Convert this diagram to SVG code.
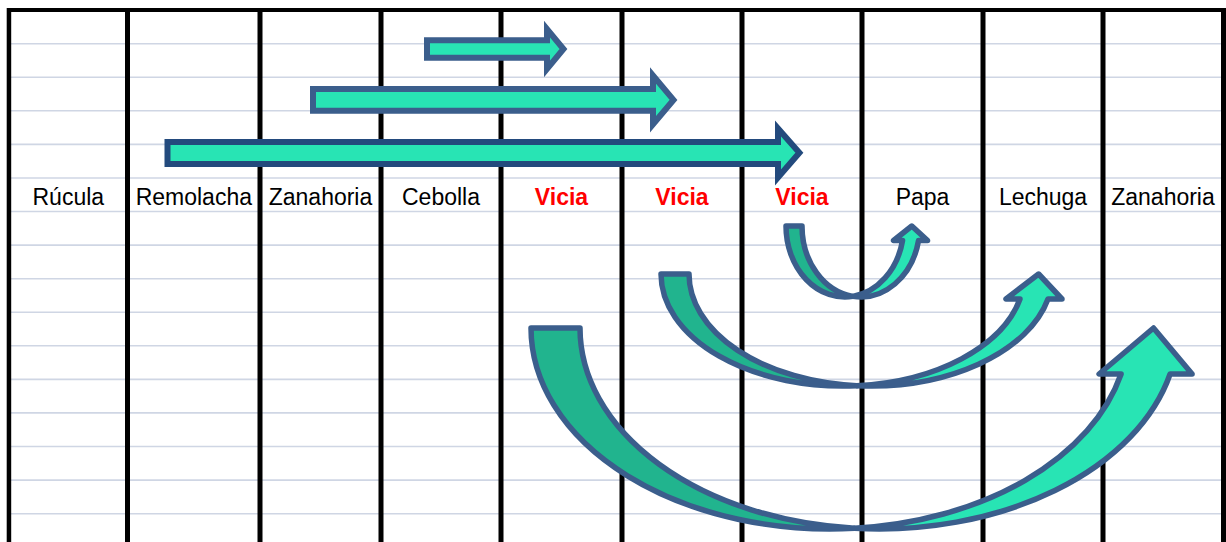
<svg xmlns="http://www.w3.org/2000/svg" width="1226" height="542" viewBox="0 0 1226 542">
<style>
.grid{stroke:#CFD6E4;stroke-width:1.6;fill:none}
.col{fill:#000}
.lbl{font-family:"Liberation Sans",Arial,sans-serif;font-size:23px;fill:#000;text-anchor:middle}
.red{fill:#FF0000;font-weight:bold}
.sa{fill:#28E4B4;stroke:#3B5E8C;stroke-width:6;stroke-linejoin:miter;stroke-miterlimit:10}
.sa.dk{stroke:#234A7D}
.back{fill:#21B48E;stroke:#3B5E8C;stroke-width:5.5;stroke-linejoin:round}
.front{fill:#28E4B4;stroke:#3B5E8C;stroke-width:5.5;stroke-linejoin:round}
</style>
<rect x="0" y="0" width="1226" height="542" fill="#FFFFFF"/>
<g id="grid">
<g class="grid">
<line x1="9" y1="43.7" x2="1222" y2="43.7"/>
<line x1="9" y1="77.3" x2="1222" y2="77.3"/>
<line x1="9" y1="110.8" x2="1222" y2="110.8"/>
<line x1="9" y1="144.4" x2="1222" y2="144.4"/>
<line x1="9" y1="178" x2="1222" y2="178"/>
<line x1="9" y1="211.5" x2="1222" y2="211.5"/>
<line x1="9" y1="245.1" x2="1222" y2="245.1"/>
<line x1="9" y1="278.7" x2="1222" y2="278.7"/>
<line x1="9" y1="312.3" x2="1222" y2="312.3"/>
<line x1="9" y1="345.8" x2="1222" y2="345.8"/>
<line x1="9" y1="379.4" x2="1222" y2="379.4"/>
<line x1="9" y1="412.9" x2="1222" y2="412.9"/>
<line x1="9" y1="446.5" x2="1222" y2="446.5"/>
<line x1="9" y1="480.1" x2="1222" y2="480.1"/>
<line x1="9" y1="513.7" x2="1222" y2="513.7"/>
</g>
<rect class="col" x="7" y="8" width="1219" height="4"/>
<rect class="col" x="6.7" y="8" width="4.5" height="534"/>
<rect class="col" x="125" y="8" width="5" height="534"/>
<rect class="col" x="257.5" y="8" width="5" height="534"/>
<rect class="col" x="378.5" y="8" width="5" height="534"/>
<rect class="col" x="498.5" y="8" width="5" height="534"/>
<rect class="col" x="619.5" y="8" width="5" height="534"/>
<rect class="col" x="739.5" y="8" width="5" height="534"/>
<rect class="col" x="859.5" y="8" width="5" height="534"/>
<rect class="col" x="980.5" y="8" width="5" height="534"/>
<rect class="col" x="1100.5" y="8" width="5" height="534"/>
<rect class="col" x="1221" y="8" width="5" height="534"/>
</g>
<g id="labels">
<text id="t1" class="lbl" x="68.3" y="204.5">Rúcula</text>
<text id="t2" class="lbl" x="193.8" y="204.5">Remolacha</text>
<text id="t3" class="lbl" x="320.5" y="204.5">Zanahoria</text>
<text id="t4" class="lbl" x="441" y="204.5">Cebolla</text>
<text id="t5" class="lbl red" x="561.5" y="204.5">Vicia</text>
<text id="t6" class="lbl red" x="682" y="204.5">Vicia</text>
<text id="t7" class="lbl red" x="802" y="204.5">Vicia</text>
<text id="t8" class="lbl" x="922.5" y="204.5">Papa</text>
<text id="t9" class="lbl" x="1043" y="204.5">Lechuga</text>
<text id="t10" class="lbl" x="1163" y="204.5">Zanahoria</text>
</g>
<g id="connectors">
<path id="arrow1" class="sa" d="M427,40.3 H547 V29 L563.5,49 L547,69 V57.7 H427 Z"/>
<path id="arrow2" class="sa" d="M313,89 H653 V75.5 L673.5,99.9 L653,124.2 V110.7 H313 Z"/>
<path id="arrow3" class="sa dk" d="M167.5,142 H778 V128.5 L799.4,152.8 L778,177.5 V164 H167.5 Z"/>
<g id="curve1">
<path class="back" d="M786,226 A58.9,71 0 0 0 852.9,296.34 A58.9,71 0 0 1 802,226 Z"/>
<path class="front" d="M852.9,296.34 A58.9,71 0 0 0 918.56,240.5 L927.56,240.5 L911.8,226 L893.56,240.5 L902.56,240.5 A58.9,71 0 0 1 852.9,296.34 Z"/>
</g>
<g id="curve2">
<path class="back" d="M661,274 A181.8,112 0 0 0 856.8,385.67 A181.8,112 0 0 1 689,274 Z"/>
<path class="front" d="M856.8,385.67 A181.8,112 0 0 0 1048,299 L1062,299 L1038.6,274 L1006,299 L1020,299 A181.8,112 0 0 1 856.8,385.67 Z"/>
</g>
<g id="curve3">
<path class="back" d="M531,328 A299,201 0 0 0 854.5,528.3 A299,201 0 0 1 580,328 Z"/>
<path class="front" d="M854.5,528.3 A299,201 0 0 0 1170.1,374 L1192.1,374 L1153.5,328 L1099.1,374 L1121.1,374 A299,201 0 0 1 854.5,528.3 Z"/>
</g>
</g>
</svg>
